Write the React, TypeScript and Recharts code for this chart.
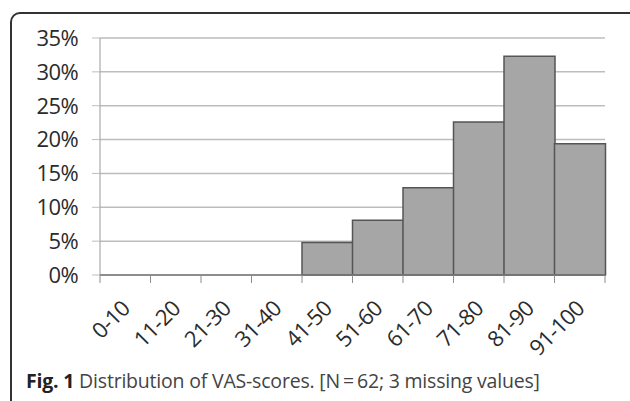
import { Bar, BarChart, CartesianGrid, XAxis, YAxis } from "recharts";

const ranges = ["0-10", "11-20", "21-30", "31-40", "41-50", "51-60", "61-70", "71-80", "81-90", "91-100"];
const shares = [0, 0, 0, 0, 4.8, 8.1, 12.9, 22.6, 32.3, 19.4];
const yTicks = [0, 5, 10, 15, 20, 25, 30, 35];

const data = ranges.map((range, i) => ({ range, share: shares[i] }));

const font = "'Open Sans', 'Noto Sans', sans-serif";

// Excel-style: tick marks sit on the bin edges, labels rotated under the centre
function RangeTick(props: any) {
    const { x, y, payload, index } = props;
    const half = payload.offset ?? 0;
    const last = index === ranges.length - 1;
    const ax = x + 6;
    const ay = y + 27;
    return (
        <g>
            <line x1={x - half} x2={x - half} y1={y - 8} y2={y} stroke="#8c8c8c" />
            {last && <line x1={x + half} x2={x + half} y1={y - 8} y2={y} stroke="#8c8c8c" />}
            <text
                x={ax}
                y={ay}
                transform={`rotate(-45, ${ax}, ${ay})`}
                textAnchor="end"
                fontSize={22}
                letterSpacing={-0.6}
                fontFamily={font}
                fill="#2b2b2b"
            >
                {payload.value}
            </text>
        </g>
    );
}

export default function App() {
    return (
        <div style={{ position: "absolute", left: 0, top: 0, width: 630, height: 401, overflow: "hidden", background: "#fff" }}>
            <div
                style={{
                    position: "absolute",
                    left: 10,
                    top: 12,
                    width: 640,
                    height: 400,
                    border: "2px solid #333",
                    borderRadius: 10,
                }}
            />
            <BarChart
                width={630}
                height={401}
                data={data}
                margin={{ top: 38, right: 25, left: 0, bottom: 56 }}
                barCategoryGap={0}
                style={{ position: "absolute", left: 0, top: 0 }}
            >
                <CartesianGrid vertical={false} stroke="#bdbdbd" strokeWidth={1.5} />
                <YAxis
                    width={100}
                    domain={[0, 35]}
                    ticks={yTicks}
                    tickFormatter={(v) => `${v}%`}
                    axisLine={{ stroke: "#999" }}
                    tickLine={{ stroke: "#bdbdbd" }}
                    tickSize={8}
                    tickMargin={14}
                    tick={{ fontSize: 22, fontFamily: font, fill: "#2b2b2b", letterSpacing: -0.6 }}
                />
                <XAxis
                    dataKey="range"
                    height={70}
                    interval={0}
                    axisLine={{ stroke: "#777", strokeWidth: 1.5 }}
                    tickLine={false}
                    tickSize={8}
                    tickMargin={0}
                    tick={<RangeTick />}
                />
                <Bar dataKey="share" fill="#a6a6a6" stroke="#555" strokeWidth={1.5} isAnimationActive={false} />
            </BarChart>
            <div
                style={{
                    position: "absolute",
                    left: 26,
                    top: 371,
                    fontFamily: font,
                    fontSize: 19.5,
                    lineHeight: 1,
                    color: "#444",
                    whiteSpace: "nowrap",
                    letterSpacing: -0.2,
                }}
            >
                <b style={{ color: "#222" }}>Fig. 1</b> Distribution of VAS-scores. [N{"\u2009=\u2009"}62; 3 missing values]
            </div>
        </div>
    );
}
